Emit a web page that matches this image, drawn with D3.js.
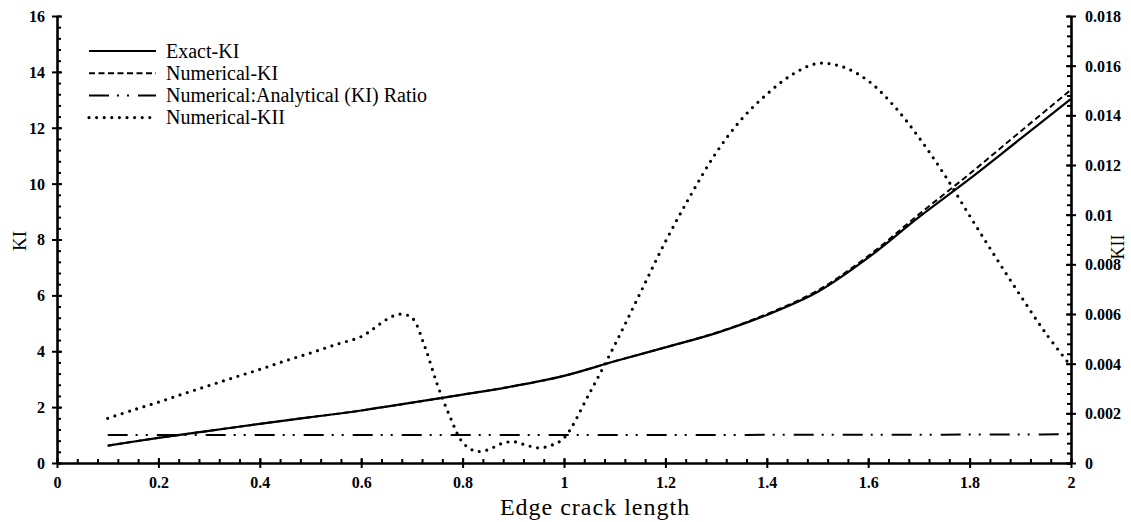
<!DOCTYPE html>
<html>
<head>
<meta charset="utf-8">
<script src="https://cdn.jsdelivr.net/npm/d3@7"></script>
<style>
  html, body { margin: 0; padding: 0; background: #fff; }
  svg { display: block; font-family: "Liberation Serif", "Times New Roman", serif; }
</style>
</head>
<body>
<svg id="chart" width="1131" height="522"></svg>
<script>
// Crack length samples for the mode-I series
const crackLength = [0.1, 0.2, 0.3, 0.4, 0.5, 0.6, 0.7, 0.8, 0.9, 1.0,
                     1.1, 1.2, 1.3, 1.4, 1.5, 1.6, 1.7, 1.8, 1.9, 2.0];
const exactKI     = [0.62, 0.90, 1.15, 1.40, 1.64, 1.88, 2.16, 2.45, 2.75, 3.12,
                     3.64, 4.14, 4.65, 5.30, 6.12, 7.35, 8.80, 10.17, 11.60, 13.03];
const numericalKI = [0.62, 0.90, 1.15, 1.40, 1.64, 1.88, 2.16, 2.45, 2.75, 3.12,
                     3.64, 4.14, 4.66, 5.33, 6.17, 7.41, 8.90, 10.35, 11.86, 13.36];
const ratioKI     = [1.00, 1.00, 1.00, 1.00, 1.00, 1.00, 1.00, 1.00, 1.00, 1.00,
                     1.00, 1.00, 1.00, 1.01, 1.01, 1.01, 1.01, 1.02, 1.02, 1.03];

// Mode-II series (right axis), sampled more finely
const kiiLength = [0.1, 0.15, 0.2, 0.25, 0.3, 0.35, 0.4, 0.45, 0.5, 0.55, 0.6,
                   0.625, 0.65, 0.675, 0.7, 0.725, 0.75, 0.775, 0.8, 0.825, 0.85,
                   0.875, 0.9, 0.925, 0.95, 0.975, 1.0, 1.05, 1.1, 1.15, 1.2, 1.25,
                   1.3, 1.35, 1.4, 1.45, 1.5, 1.55, 1.6, 1.65, 1.7, 1.75, 1.8, 1.85,
                   1.9, 1.95, 2.0];
const numericalKII = [0.00180, 0.00213, 0.00245, 0.00279, 0.00312, 0.00345, 0.00377,
                      0.00411, 0.00443, 0.00477, 0.00509, 0.00542, 0.00578, 0.00599,
                      0.00585, 0.00471, 0.00317, 0.00187, 0.00083, 0.00048, 0.00053,
                      0.00077, 0.00086, 0.00072, 0.00061, 0.00071, 0.00101, 0.00280,
                      0.00475, 0.00683, 0.00891, 0.01079, 0.01249, 0.01384, 0.01485,
                      0.01564, 0.01609, 0.01595, 0.01539, 0.01440, 0.01311, 0.01162,
                      0.00996, 0.00833, 0.00675, 0.00523, 0.00390];

// Axis ticks and labels
const xTicks = [0, 0.2, 0.4, 0.6, 0.8, 1, 1.2, 1.4, 1.6, 1.8, 2];
const xTickLabels = ["0", "0.2", "0.4", "0.6", "0.8", "1", "1.2", "1.4", "1.6", "1.8", "2"];
const leftTicks = [0, 2, 4, 6, 8, 10, 12, 14, 16];
const leftTickLabels = ["0", "2", "4", "6", "8", "10", "12", "14", "16"];
const rightTicks = [0, 0.002, 0.004, 0.006, 0.008, 0.01, 0.012, 0.014, 0.016, 0.018];
const rightTickLabels = ["0", "0.002", "0.004", "0.006", "0.008", "0.01", "0.012", "0.014", "0.016", "0.018"];

const seriesNames = ["Exact-KI", "Numerical-KI", "Numerical:Analytical (KI) Ratio", "Numerical-KII"];

const svg = d3.select("#chart");
svg.append("rect").attr("width", 1131).attr("height", 522).attr("fill", "#fff");

const x = d3.scaleLinear().domain([0, 2]).range([57, 1071]);
const yL = d3.scaleLinear().domain([0, 16]).range([463, 16]);
const yR = d3.scaleLinear().domain([0, 0.018]).range([463, 16]);

const styles = [
  { width: 2.2, dash: null, cap: "butt" },
  { width: 2.0, dash: "6,3.5", cap: "butt" },
  { width: 2.0, dash: "20,8,2,8,2,9", cap: "butt" },
  { width: 3.2, dash: "0,7.6", cap: "round" }
];

// ----- axes -----
const axisColor = "#000";
function styleAxis(g) {
  g.select(".domain").attr("stroke", axisColor).attr("stroke-width", 2.6);
  g.selectAll(".tick line").attr("stroke", axisColor).attr("stroke-width", 2);
}

// minor ticks (inside)
const xMinor = d3.range(0, 51).map(i => i * 0.04);
const yLMinor = d3.range(0, 41).map(i => i * 0.4);
const yRMinor = d3.range(0, 46).map(i => i * 0.0004);

svg.append("g").attr("transform", "translate(0,463)")
  .call(d3.axisBottom(x).tickValues(xMinor).tickSize(-4).tickFormat(""))
  .call(g => { g.select(".domain").remove(); g.selectAll(".tick line").attr("stroke", axisColor).attr("stroke-width", 2); });
svg.append("g").attr("transform", "translate(57,0)")
  .call(d3.axisLeft(yL).tickValues(yLMinor).tickSize(-4).tickFormat(""))
  .call(g => { g.select(".domain").remove(); g.selectAll(".tick line").attr("stroke", axisColor).attr("stroke-width", 2); });
svg.append("g").attr("transform", "translate(1071,0)")
  .call(d3.axisRight(yR).tickValues(yRMinor).tickSize(-4).tickFormat(""))
  .call(g => { g.select(".domain").remove(); g.selectAll(".tick line").attr("stroke", axisColor).attr("stroke-width", 2); });

// major axes with crossing ticks
const gx = svg.append("g").attr("transform", "translate(0,463)")
  .call(d3.axisBottom(x).tickValues(xTicks).tickSize(5).tickSizeOuter(0)
        .tickFormat((d, i) => xTickLabels[i]));
styleAxis(gx);
gx.selectAll(".tick line").attr("y1", -5).attr("y2", 5);
gx.selectAll(".tick text").attr("y", 25).attr("dy", 0)
  .style("font-family", "'Liberation Serif', serif").style("font-size", "16px")
  .style("font-weight", "bold").attr("fill", "#000");

const gl = svg.append("g").attr("transform", "translate(57,0)")
  .call(d3.axisLeft(yL).tickValues(leftTicks).tickSize(5).tickSizeOuter(0)
        .tickFormat((d, i) => leftTickLabels[i]));
styleAxis(gl);
gl.selectAll(".tick line").attr("x1", 5).attr("x2", -5);
gl.selectAll(".tick text").attr("x", -12).attr("dy", "0.34em")
  .style("font-family", "'Liberation Serif', serif").style("font-size", "16px")
  .style("font-weight", "bold").attr("fill", "#000");

const gr = svg.append("g").attr("transform", "translate(1071,0)")
  .call(d3.axisRight(yR).tickValues(rightTicks).tickSize(5).tickSizeOuter(0)
        .tickFormat((d, i) => rightTickLabels[i]));
styleAxis(gr);
gr.selectAll(".tick line").attr("x1", -5).attr("x2", 5);
gr.selectAll(".tick text").attr("x", 14).attr("dy", "0.34em")
  .style("font-family", "'Liberation Serif', serif").style("font-size", "16px")
  .style("font-weight", "bold").attr("fill", "#000");

// axis titles
svg.append("text").attr("transform", "translate(19,241) rotate(-90)")
  .attr("text-anchor", "middle").attr("dominant-baseline", "central")
  .style("font-size", "19px").text("KI");
svg.append("text").attr("transform", "translate(1118,247) rotate(-90)")
  .attr("text-anchor", "middle").attr("dominant-baseline", "central")
  .style("font-size", "18px").text("KII");
svg.append("text").attr("x", 595).attr("y", 515)
  .attr("text-anchor", "middle").style("font-size", "24px")
  .style("letter-spacing", "1px").text("Edge crack length");

// ----- series -----
const curve = d3.curveCatmullRom.alpha(0.5);
const lineL = d3.line().x(d => x(d[0])).y(d => yL(d[1])).curve(curve);
const lineR = d3.line().x(d => x(d[0])).y(d => yR(d[1])).curve(curve);

const series = [
  { path: lineL(crackLength.map((c, i) => [c, exactKI[i]])), s: styles[0] },
  { path: lineL(crackLength.map((c, i) => [c, numericalKI[i]])), s: styles[1] },
  { path: lineL(crackLength.map((c, i) => [c, ratioKI[i]])), s: styles[2] },
  { path: lineR(kiiLength.map((c, i) => [c, numericalKII[i]])), s: styles[3] }
];

// draw in an order that keeps the exact curve readable under the dashed one
[2, 3, 0, 1].forEach(k => {
  const d = series[k];
  svg.append("path").attr("d", d.path).attr("fill", "none")
    .attr("stroke", "#000").attr("stroke-width", d.s.width)
    .attr("stroke-linecap", d.s.cap)
    .attr("stroke-dasharray", d.s.dash);
});

// ----- legend -----
const legend = svg.append("g");
seriesNames.forEach((name, i) => {
  const yy = 51 + i * 22.2;
  const s = styles[i];
  legend.append("line").attr("x1", i === 3 ? 89 : 89).attr("x2", 156)
    .attr("y1", yy).attr("y2", yy)
    .attr("stroke", "#000").attr("stroke-width", s.width)
    .attr("stroke-linecap", s.cap).attr("stroke-dasharray", s.dash);
  legend.append("text").attr("x", 166).attr("y", yy + 6.5)
    .style("font-size", "20px").text(name);
});
</script>
</body>
</html>
